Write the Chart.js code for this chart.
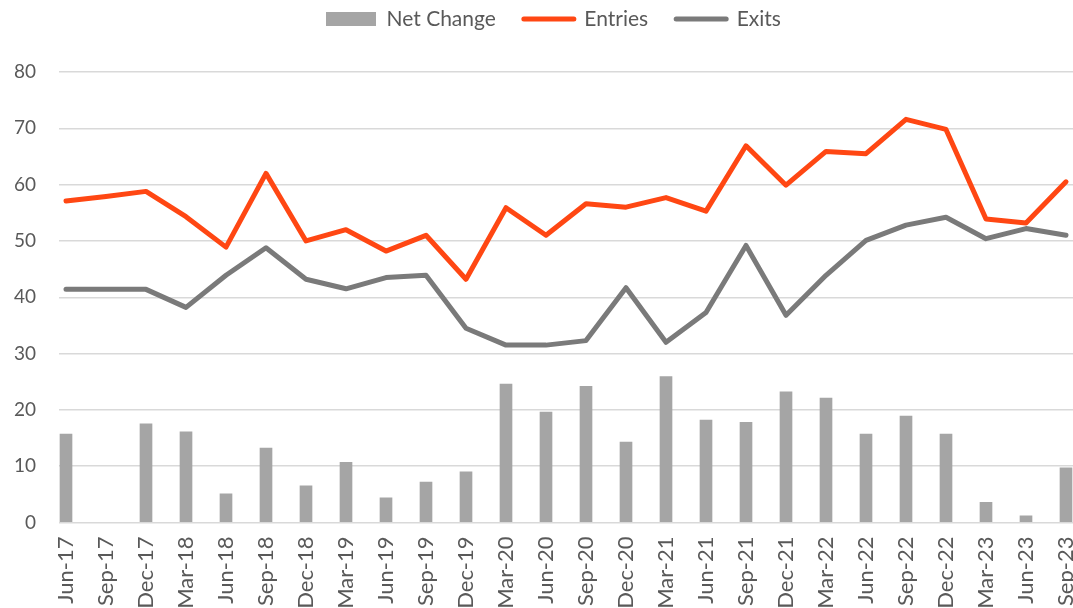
<!DOCTYPE html>
<html>
<head>
<meta charset="utf-8">
<title>Net Change, Entries and Exits</title>
<script src="https://cdn.jsdelivr.net/npm/chart.js@4.4.1/dist/chart.umd.min.js"></script>
<style>
  html, body { margin: 0; padding: 0; background: #fff; }
  #wrap { position: relative; width: 1073px; height: 608px; }
</style>
</head>
<body>
<div id="wrap"><canvas id="chart"></canvas></div>
<script>
// Quarters on the x axis
const quarters = ['Jun-17', 'Sep-17', 'Dec-17', 'Mar-18', 'Jun-18', 'Sep-18', 'Dec-18', 'Mar-19',
    'Jun-19', 'Sep-19', 'Dec-19', 'Mar-20', 'Jun-20', 'Sep-20', 'Dec-20', 'Mar-21', 'Jun-21',
    'Sep-21', 'Dec-21', 'Mar-22', 'Jun-22', 'Sep-22', 'Dec-22', 'Mar-23', 'Jun-23', 'Sep-23'];

// Series values
const netChange = [15.7, null, 17.5, 16.1, 5.1, 13.2, 6.5, 10.7, 4.4, 7.2, 9.0, 24.6, 19.6,
    24.2, 14.3, 25.9, 18.2, 17.8, 23.2, 22.1, 15.7, 18.9, 15.7, 3.6, 1.2, 9.7];
const entries = [57.1, 57.9, 58.8, 54.3, 48.9, 62.0, 50.0, 52.0, 48.2, 51.0, 43.2, 55.9, 51.0,
    56.6, 56.0, 57.7, 55.3, 66.9, 59.9, 65.9, 65.5, 71.6, 69.8, 53.9, 53.2, 60.5];
const exits = [41.4, 41.4, 41.4, 38.2, 43.9, 48.8, 43.2, 41.5, 43.5, 43.9, 34.5, 31.5, 31.5,
    32.3, 41.7, 32.0, 37.3, 49.2, 36.8, 43.9, 50.1, 52.8, 54.2, 50.4, 52.2, 51.0];

// y axis range
const yMin = 0;
const yMax = 80;
const yStep = 10;

const FONT = 'Lato, "Open Sans", sans-serif';
const TEXT = '#595959';
const LEGEND_SIZE = 21;
const LEGEND_PAD = 28;

// index -> {x, y} so the x axis can be a linear index scale
function points(values) {
    return values.map((v, i) => ({ x: i, y: v }));
}

// put the legend row where it sits in the original (starts at x=326, text centred on y=19)
const legendNudge = {
    id: 'legendNudge',
    afterLayout(chart) {
        const lg = chart.legend;
        if (!lg || !lg.lineWidths) return;
        const w = lg.width;
        lg.top = 19 - LEGEND_PAD - LEGEND_SIZE / 2;
        lg.bottom = lg.top + lg.height;
        lg.left = 326 - (LEGEND_PAD + w - lg.lineWidths[0]) / 2;
        lg.right = lg.left + w;
    }
};

const ctx = document.getElementById('chart').getContext('2d');

const chart = new Chart(ctx, {
    type: 'bar',
    data: {
        datasets: [{
            type: 'bar',
            label: 'Net Change',
            data: points(netChange),
            backgroundColor: '#A5A5A5',
            borderWidth: 0,
            barThickness: 12,
            pointStyle: 'rect'
        }, {
            type: 'line',
            label: 'Entries',
            data: points(entries),
            borderColor: '#FF4713',
            backgroundColor: '#FF4713',
            borderWidth: 5,
            borderCapStyle: 'round',
            borderJoinStyle: 'round',
            pointRadius: 0,
            pointHoverRadius: 0,
            pointStyle: 'line',
            pointBorderWidth: 5,
            pointBorderColor: '#FF4713',
            tension: 0
        }, {
            type: 'line',
            label: 'Exits',
            data: points(exits),
            borderColor: '#7A7A7A',
            backgroundColor: '#7A7A7A',
            borderWidth: 5,
            borderCapStyle: 'round',
            borderJoinStyle: 'round',
            pointRadius: 0,
            pointHoverRadius: 0,
            pointStyle: 'line',
            pointBorderWidth: 5,
            pointBorderColor: '#7A7A7A',
            tension: 0
        }]
    },
    options: {
        responsive: true,
        maintainAspectRatio: false,
        animation: false,
        layout: { padding: 0 },
        scales: {
            x: {
                type: 'linear',
                offset: false,
                min: -0.175,
                max: quarters.length - 1 + 0.175,
                grid: { display: false, drawTicks: false, offset: false },
                border: { display: false },
                ticks: {
                    stepSize: 1,
                    includeBounds: false,
                    autoSkip: false,
                    minRotation: 90,
                    maxRotation: 90,
                    padding: 14,
                    color: TEXT,
                    font: { family: FONT, size: 22 },
                    callback: v => quarters[v]
                },
                afterFit: s => {
                    s.height = 85.5;
                    s.paddingLeft = 0;
                    s.paddingRight = 0;
                }
            },
            y: {
                min: yMin,
                max: yMax,
                grid: { color: '#D9D9D9', lineWidth: 1.5, drawTicks: false },
                border: { display: false },
                ticks: {
                    stepSize: yStep,
                    padding: 23,
                    color: TEXT,
                    font: { family: FONT, size: 19 }
                },
                afterFit: s => {
                    s.width = 59;
                    s.paddingTop = 72;
                }
            }
        },
        plugins: {
            legend: {
                position: 'top',
                labels: {
                    usePointStyle: true,
                    pointStyleWidth: 50,
                    boxHeight: 14,
                    padding: LEGEND_PAD,
                    color: TEXT,
                    font: { family: FONT, size: LEGEND_SIZE },
                    sort: (a, b) => a.datasetIndex - b.datasetIndex,
                    generateLabels: c => Chart.defaults.plugins.legend.labels.generateLabels(c)
                        .map(l => Object.assign(l, { lineCap: 'round' }))
                }
            },
            tooltip: { enabled: false }
        }
    },
    plugins: [legendNudge]
});
</script>
</body>
</html>
